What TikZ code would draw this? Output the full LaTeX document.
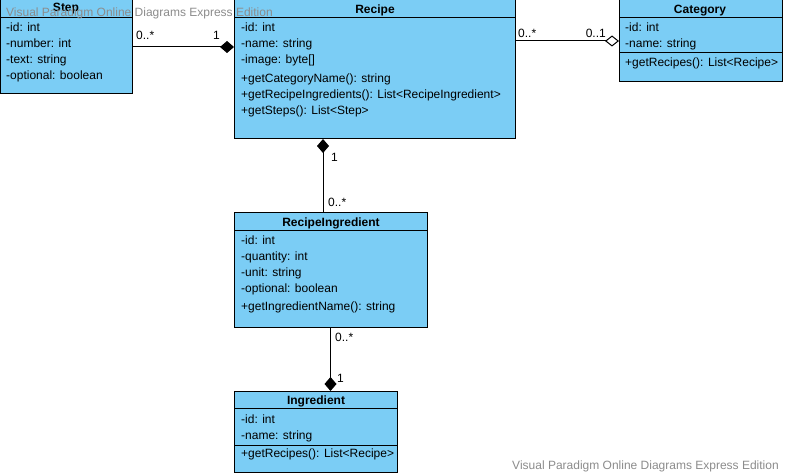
\documentclass[tikz,border=0pt]{standalone}
\usepackage{fontspec}
\setmainfont{Liberation Sans}
\usetikzlibrary{arrows.meta,calc}
\definecolor{classblue}{RGB}{123,205,245}
\definecolor{wmgray}{RGB}{140,140,140}
\begin{document}
\begin{tikzpicture}[x=1pt,y=-1pt,
  umlbox/.style={draw=black,line width=1pt,fill=classblue,inner sep=0pt,outer sep=0pt,anchor=north west},
  sep/.style={draw=black,line width=0.8pt},
  attr/.style={anchor=base west,inner sep=0pt,font=\fontsize{12}{14}\selectfont},
  ttl/.style={anchor=base,inner sep=0pt,font=\fontsize{12}{14}\selectfont\bfseries},
  mult/.style={inner sep=0pt,font=\fontsize{12}{14}\selectfont},
  conn/.style={draw=black,line width=1pt},
  fdia/.tip={Diamond[length=14pt,width=12pt,fill=black]},
  odia/.tip={Diamond[open,length=14pt,width=11pt,fill=white]},
  wm/.style={inner sep=0pt,text=wmgray,font=\fontsize{12}{14}\selectfont}]
\useasboundingbox (0,0) rectangle (785,476);
\fill[white] (0,0) rectangle (785,476);

% Step
\node[umlbox,minimum width=132pt,minimum height=94pt] (step) at (0,0) {};
\draw[sep] (0,17) -- (132,17);
\node[ttl] (stept) at (66,12) {Step};
\node[attr] (s1) at (6,31.5) {-id: int};
\node[attr] (s2) at (6,47.5) {-number: int};
\node[attr] (s3) at (6,64) {-text: string};
\node[attr] (s4) at (6,80) {-optional: boolean};

% Recipe
\node[umlbox,minimum width=281pt,minimum height=139pt] (recipe) at (234,0) {};
\draw[sep] (234,17) -- (515,17);
\node[ttl] (rt) at (375,13.3) {Recipe};
\node[attr] (r1) at (241,31.7) {-id: int};
\node[attr] (r2) at (241,47.5) {-name: string};
\node[attr] (r3) at (241,63.5) {-image: byte[]};
\node[attr] (r4) at (241,83) {+getCategoryName(): string};
\node[attr] (r5) at (241,99) {+getRecipeIngredients(): List<RecipeIngredient>};
\node[attr] (r6) at (241,115) {+getSteps(): List<Step>};

% Category
\node[umlbox,minimum width=163pt,minimum height=82pt] (cat) at (619,0) {};
\draw[sep] (619,17) -- (782,17);
\draw[sep] (619,52) -- (782,52);
\node[ttl] (ct) at (700,13.3) {Category};
\node[attr] (c1) at (625,31.7) {-id: int};
\node[attr] (c2) at (625,47.5) {-name: string};
\node[attr] (c3) at (625,66.5) {+getRecipes(): List<Recipe>};

% RecipeIngredient
\node[umlbox,minimum width=193pt,minimum height=114pt] (ri) at (234,213) {};
\draw[sep] (234,230.5) -- (427,230.5);
\node[ttl] (rit) at (331,226.5) {RecipeIngredient};
\node[attr] (ri1) at (241,244.5) {-id: int};
\node[attr] (ri2) at (241,260.5) {-quantity: int};
\node[attr] (ri3) at (241,276.5) {-unit: string};
\node[attr] (ri4) at (241,292.5) {-optional: boolean};
\node[attr] (ri5) at (241,310.5) {+getIngredientName(): string};

% Ingredient
\node[umlbox,minimum width=163pt,minimum height=81pt] (ing) at (234,391) {};
\draw[sep] (234,408) -- (397,408);
\draw[sep] (234,445) -- (397,445);
\node[ttl] (it) at (316,404.5) {Ingredient};
\node[attr] (i1) at (241,423) {-id: int};
\node[attr] (i2) at (241,439) {-name: string};
\node[attr] (i3) at (241,457) {+getRecipes(): List<Recipe>};

% connectors
\draw[conn,-{fdia}] (step.east) -- (recipe.west |- step.east);
\draw[conn,-{odia}] (recipe.east |- cat.west) -- (cat.west);
\coordinate (rb) at ($(recipe.south west)+(89,0)$);
\draw[conn,{fdia}-] (rb) -- (rb |- ri.north);
\draw[conn,-{fdia}] (ri.south) -- (ri.south |- ing.north);

% multiplicities
\node[mult,anchor=base west] (m1) at (136,40) {0..*};
\node[mult,anchor=base east] (m2) at (220,40) {1};
\node[mult,anchor=base west] (m3) at (518,37.5) {0..*};
\node[mult,anchor=base east] (m4) at (606,37.5) {0..1};
\node[mult,anchor=base west] (m5) at (331,161.5) {1};
\node[mult,anchor=base west] (m6) at (328,206.5) {0..*};
\node[mult,anchor=base west] (m7) at (335,341.5) {0..*};
\node[mult,anchor=base west] (m8) at (337,382.5) {1};

% watermarks
\node[wm,anchor=base west] (w1) at (6,16.5) {Visual Paradigm Online Diagrams Express Edition};
\node[wm,anchor=base east] (w2) at (779,469.5) {Visual Paradigm Online Diagrams Express Edition};
\end{tikzpicture}
\end{document}
